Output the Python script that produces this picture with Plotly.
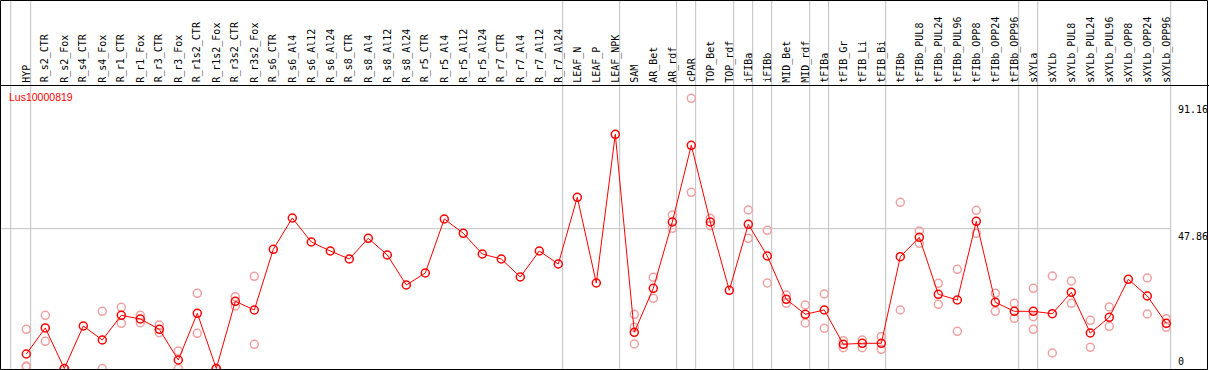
import plotly.graph_objects as go

# ---------------- data ----------------
categories = [
    "HYP", "R_s2_CTR", "R_s2_Fox", "R_s4_CTR", "R_s4_Fox", "R_r1_CTR", "R_r1_Fox",
    "R_r3_CTR", "R_r3_Fox", "R_r1s2_CTR", "R_r1s2_Fox", "R_r3s2_CTR", "R_r3s2_Fox",
    "R_s6_CTR", "R_s6_Al4", "R_s6_Al12", "R_s6_Al24", "R_s8_CTR", "R_s8_Al4",
    "R_s8_Al12", "R_s8_Al24", "R_r5_CTR", "R_r5_Al4", "R_r5_Al12", "R_r5_Al24",
    "R_r7_CTR", "R_r7_Al4", "R_r7_Al12", "R_r7_Al24", "LEAF_N", "LEAF_P", "LEAF_NPK",
    "SAM", "AR_Bet", "AR_rdf", "cPAR", "TOP_Bet", "TOP_rdf", "iFIBa", "iFIBb",
    "MID_Bet", "MID_rdf", "tFIBa", "tFIB_Gr", "tFIB_Li", "tFIB_Bi", "tFIBb",
    "tFIBb_PUL8", "tFIBb_PUL24", "tFIBb_PUL96", "tFIBb_OPP8", "tFIBb_OPP24",
    "tFIBb_OPP96", "sXYLa", "sXYLb", "sXYLb_PUL8", "sXYLb_PUL24", "sXYLb_PUL96",
    "sXYLb_OPP8", "sXYLb_OPP24", "sXYLb_OPP96",
]

mean_values = [
    4.96, 13.87, 0.0, 14.55, 9.76, 18.21, 16.95, 13.42, 2.91, 18.90, 0.0, 23.01, 20.03,
    40.81, 51.52, 43.31, 40.23, 37.49, 44.57, 38.86, 28.59, 32.69, 51.18, 46.29, 39.20,
    37.49, 31.32, 40.23, 35.78, 58.61, 29.27, 80.18,
    12.39, 27.46, 50.15, 76.41, 50.15, 26.77, 49.37, 38.51, 23.69, 18.56, 20.03,
    8.28, 8.63, 8.63, 38.27, 44.92, 25.40, 23.45, 50.39, 22.66, 19.58,
    19.58, 18.76, 26.09, 12.15, 17.53, 30.54, 24.82, 15.47,
]

N = None
rep_a = [
    13.42, 18.21, 0.0, N, 19.58, 20.95, 18.21, 14.89, 5.99, 25.74, 0.0, 24.58, 31.56,
    N, N, N, N, N, N, N, N, N, N, N, N, N, N, N, N, N, N, N,
    18.56, 31.22, 52.55, 92.50, 51.42, N, 54.26, 47.31, 25.16, 21.74, 25.50,
    9.52, 9.76, 10.89, 56.90, 47.07, 29.17, 33.96, 54.16, 25.74, 22.32,
    27.46, 31.67, 29.96, 16.50, 21.05, N, 30.98, 17.05,
]
rep_b = [
    0.86, 9.31, 0.0, N, 0.0, 15.47, 15.68, 12.26, 0.0, 12.05, 0.0, 21.40, 8.28,
    N, N, N, N, N, N, N, N, N, N, N, N, N, N, N, N, N, N, N,
    14.10, 24.03, 48.00, 60.30, 48.89, N, 44.57, 29.27, 22.32, 15.58, 13.76,
    7.12, 7.12, 6.57, 20.03, 42.86, 21.98, 12.74, 46.29, 19.58, 17.19,
    17.73, 5.31, 22.32, 7.26, 14.45, N, 18.66, 14.10,
]
rep_c = [
    0.60, N, N, N, N, N, N, N, N, N, N, N, N,
    N, N, N, N, N, N, N, N, N, N, N, N, N, N, N, N, N, N, N,
    8.39, N, N, N, N, N, N, N, N, N, N,
    N, N, N, N, N, N, N, N, N, N,
    13.42, N, N, N, N, N, N, N,
]

# index of the last category of each group (a grey separator follows it)
group_ends = [0, 28, 31, 34, 35, 37, 38, 39, 41, 42, 45, 52, 53, 60]
left_guide = -0.82
axis_labels = [91.16, 47.86]
title_text = "Lus10000819"

# ---------------- layout geometry ----------------
W, H = 1209, 370
X_RANGE = [-1.384, 62.247]
Y_RANGE = [-0.514, 126.155]
SEP_OFFSET = 0.23


def px_x(p):
    return p / W


def px_y(p):
    return 1 - p / H


RED = "#ff0000"
PINK = "#f0a0a0"
GRID = "#c0c0c0"

fig = go.Figure()

rx, ry = [], []
for reps in (rep_a, rep_b, rep_c):
    for i, v in enumerate(reps):
        if v is not None:
            rx.append(i)
            ry.append(v)

fig.add_trace(go.Scatter(
    x=rx, y=ry, mode="markers",
    marker=dict(symbol="circle-open", size=8, color=PINK, line=dict(width=1.5, color=PINK)),
    hoverinfo="skip", showlegend=False,
))
fig.add_trace(go.Scatter(
    x=list(range(len(categories))), y=mean_values, mode="lines+markers",
    line=dict(color=RED, width=1),
    marker=dict(symbol="circle-open", size=8, color=RED, line=dict(width=1.5, color=RED)),
    text=categories, showlegend=False,
))

shapes = []
# vertical separators
for g in [left_guide] + [e + SEP_OFFSET for e in group_ends]:
    shapes.append(dict(type="line", xref="x", yref="paper", x0=g, x1=g, y0=0, y1=1,
                       line=dict(color=GRID, width=1), layer="below"))
# horizontal grid at 47.86
shapes.append(dict(type="line", xref="paper", yref="y", x0=0,
                   x1=(group_ends[-1] + SEP_OFFSET - X_RANGE[0]) / (X_RANGE[1] - X_RANGE[0]),
                   y0=axis_labels[1], y1=axis_labels[1], line=dict(color=GRID, width=1), layer="below"))
# header separator and frame
shapes.append(dict(type="line", xref="paper", yref="paper", x0=0, x1=1, y0=px_y(85.5), y1=px_y(85.5),
                   line=dict(color="black", width=1)))
shapes.append(dict(type="rect", xref="paper", yref="paper", x0=px_x(0.5), x1=px_x(1207.5),
                   y0=px_y(369.5), y1=px_y(0.5), line=dict(color="black", width=1)))

annotations = []
for i, c in enumerate(categories):
    annotations.append(dict(x=i, xref="x", y=px_y(84.5), yref="paper", text=c, showarrow=False,
                            textangle=-90, xanchor="center", yanchor="bottom",
                            font=dict(family="DejaVu Sans Mono", size=10, color="black")))
annotations.append(dict(x=px_x(7), xref="paper", y=px_y(89), yref="paper", text=title_text,
                        showarrow=False, xanchor="left", yanchor="top",
                        font=dict(family="Liberation Sans", size=10.5, color=RED)))
for v in axis_labels:
    annotations.append(dict(x=px_x(1176), xref="paper", y=v, yref="y", text=f"{v:.2f}",
                            showarrow=False, xanchor="left", yanchor="top",
                            font=dict(family="DejaVu Sans Mono", size=10, color="black")))
annotations.append(dict(x=px_x(1176), xref="paper", y=0, yref="y", text="0",
                        showarrow=False, xanchor="left", yanchor="bottom",
                        font=dict(family="DejaVu Sans Mono", size=10, color="black")))

fig.update_layout(
    width=W, height=H,
    margin=dict(l=0, r=0, t=0, b=0, pad=0),
    paper_bgcolor="white", plot_bgcolor="white",
    xaxis=dict(range=X_RANGE, visible=False, fixedrange=True),
    yaxis=dict(range=Y_RANGE, visible=False, fixedrange=True),
    shapes=shapes, annotations=annotations,
)

fig.write_html(
    "out.html",
    config={"displayModeBar": False},
    post_script="document.body.style.margin='0';document.body.style.overflow='hidden';",
)
